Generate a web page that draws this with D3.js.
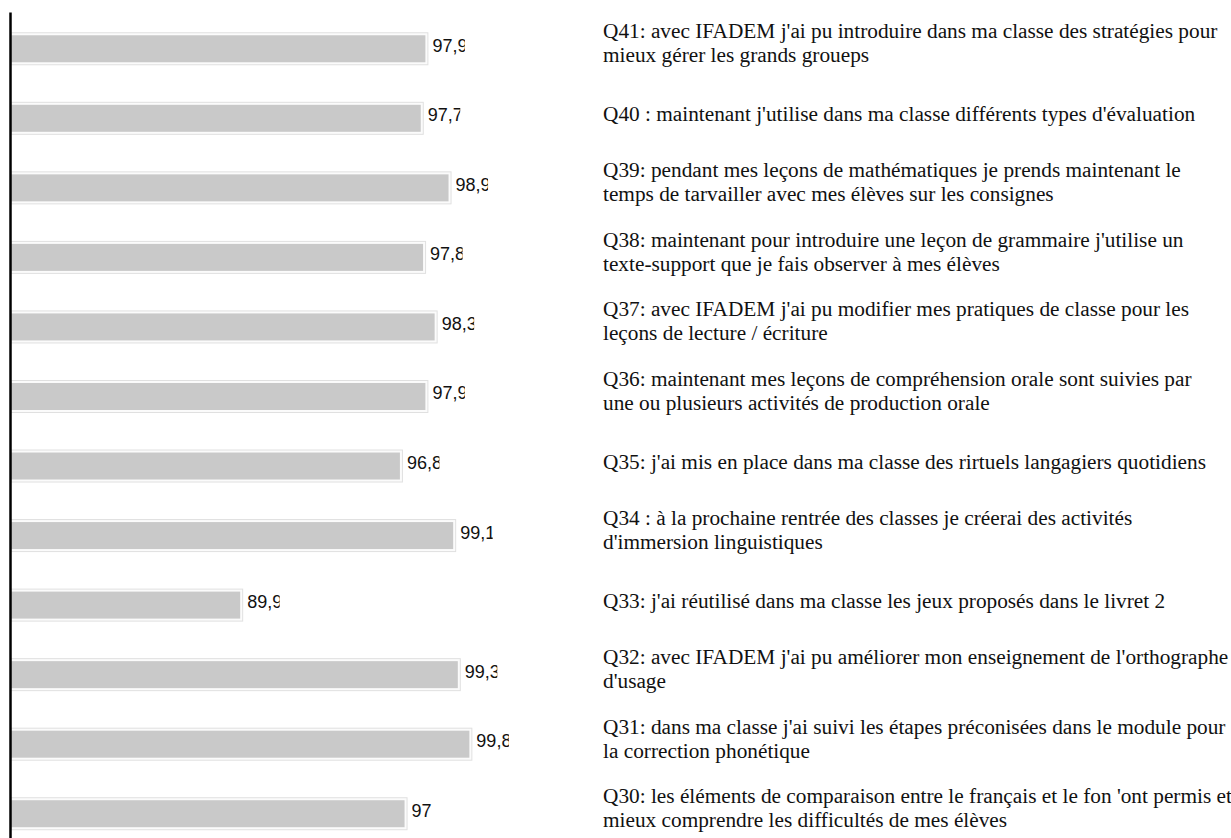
<!DOCTYPE html>
<html>
<head>
<meta charset="utf-8">
<script src="https://cdn.jsdelivr.net/npm/d3@7"></script>
<style>
  html, body { margin: 0; padding: 0; background: #fff; overflow: hidden; }
  .value { font-family: "Liberation Sans", Arial, sans-serif; font-size: 18px; fill: #111; }
  .question { font-family: "Liberation Serif", "Times New Roman", serif; font-size: 21.3px; fill: #111; }
</style>
</head>
<body>
<svg id="chart" width="1231" height="838"></svg>
<script>
// questions, top to bottom
const questions = ['Q41', 'Q40', 'Q39', 'Q38', 'Q37', 'Q36', 'Q35', 'Q34', 'Q33', 'Q32', 'Q31', 'Q30'];

// % of answers
const values = [97.9, 97.7, 98.9, 97.8, 98.3, 97.9, 96.8, 99.1, 89.9, 99.3, 99.8, 97];

// question wording, already split in lines like in the original
const questionLines = [
    ["Q41: avec IFADEM j'ai pu introduire dans ma classe des stratégies pour", "mieux gérer les grands groueps"],
    ["Q40 : maintenant j'utilise dans ma classe différents types d'évaluation"],
    ["Q39: pendant mes leçons de mathématiques je prends maintenant le", "temps de tarvailler avec mes élèves sur les consignes"],
    ["Q38: maintenant pour introduire une leçon de grammaire j'utilise un", "texte-support que je fais observer à mes élèves"],
    ["Q37: avec IFADEM j'ai pu modifier mes pratiques de classe pour les", "leçons de lecture / écriture"],
    ["Q36: maintenant mes leçons de compréhension orale sont suivies par", "une ou plusieurs activités de production orale"],
    ["Q35: j'ai mis en place dans ma classe des rirtuels langagiers quotidiens"],
    ["Q34 : à la prochaine rentrée des classes je créerai des activités", "d'immersion linguistiques"],
    ["Q33: j'ai réutilisé dans ma classe les jeux proposés dans le livret 2"],
    ["Q32: avec IFADEM j'ai pu améliorer mon enseignement de l'orthographe", "d'usage"],
    ["Q31: dans ma classe j'ai suivi les étapes préconisées dans le module pour", "la correction phonétique"],
    ["Q30: les éléments de comparaison entre le français et le fon 'ont permis et", "mieux comprendre les difficultés de mes élèves"]
];

const data = questions.map((q, i) => ({ id: q, value: values[i], lines: questionLines[i] }));

const svg = d3.select('#chart');

const x = d3.scaleLinear().domain([80, 100]).range([11, 474]);
const y = d3.scaleBand().domain(questions).range([14, 848.5]).padding(0);
const mid = d => y(d.id) + y.bandwidth() / 2;

const fr = d3.formatLocale({ decimal: ',', thousands: ' ', grouping: [3], currency: ['', ' €'] });
const fmt = v => fr.format(Number.isInteger(v) ? 'd' : '.1f')(v);

const barH = 27;
const pad = 2.5;

// light frame around each bar
svg.selectAll('rect.frame')
    .data(data)
    .enter()
    .append('rect')
    .attr('class', 'frame')
    .attr('x', x(80))
    .attr('y', d => mid(d) - barH / 2 - pad)
    .attr('width', d => x(d.value) - x(80) + pad)
    .attr('height', barH + pad * 2)
    .attr('fill', '#fbfbfb')
    .attr('stroke', '#e0e0e0')
    .attr('stroke-width', 1);

// gray bars
svg.selectAll('rect.bar')
    .data(data)
    .enter()
    .append('rect')
    .attr('class', 'bar')
    .attr('x', x(80))
    .attr('y', d => mid(d) - barH / 2)
    .attr('width', d => x(d.value) - x(80))
    .attr('height', barH)
    .attr('fill', '#c9c9c9');

// value labels are cut after a fixed width (like the original)
const defs = svg.append('defs');
defs.selectAll('clipPath')
    .data(data)
    .enter()
    .append('clipPath')
    .attr('id', (d, i) => 'clip' + i)
    .append('rect')
    .attr('x', d => x(d.value) + 7)
    .attr('y', d => mid(d) - 16)
    .attr('width', 32.5)
    .attr('height', 32);

svg.selectAll('text.value')
    .data(data)
    .enter()
    .append('text')
    .attr('class', 'value')
    .attr('clip-path', (d, i) => `url(#clip${i})`)
    .attr('x', d => x(d.value) + 7)
    .attr('y', d => mid(d) + 3)
    .text(d => fmt(d.value));

// left axis, just the line
const axis = svg.append('g')
    .attr('transform', 'translate(10.5,0)')
    .call(d3.axisLeft(y).tickSize(0).tickFormat(''));
axis.select('.domain')
    .attr('d', 'M0,12.5V848')
    .attr('stroke', '#000')
    .attr('stroke-width', 2.5);

// question texts on the right
const lineH = 24;
const textX = 603;
const blocks = svg.selectAll('text.question')
    .data(data)
    .enter()
    .append('text')
    .attr('class', 'question')
    .attr('x', textX)
    .attr('y', d => mid(d) + 3 - (d.lines.length - 1) * 13.5);

blocks.selectAll('tspan')
    .data(d => d.lines)
    .enter()
    .append('tspan')
    .attr('x', textX)
    .attr('dy', (l, i) => i === 0 ? 0 : lineH)
    .text(l => l);
</script>
</body>
</html>
